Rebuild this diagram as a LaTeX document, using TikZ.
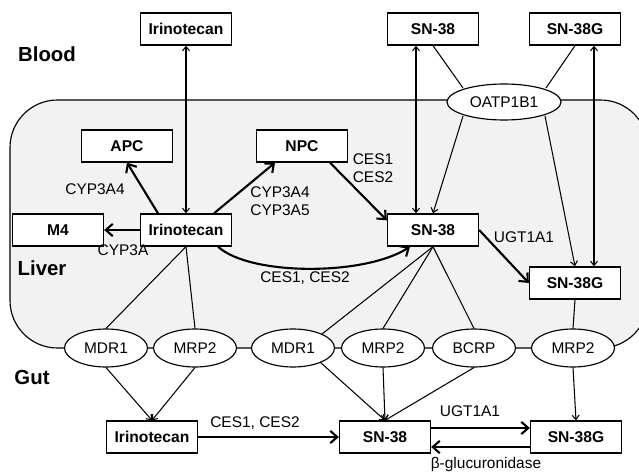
\documentclass[tikz,border=0pt]{standalone}
\usepackage{fontspec}
\setmainfont{Liberation Sans}
\usetikzlibrary{arrows.meta,shapes.geometric,calc}
\begin{document}
\begin{tikzpicture}[x=0.02cm,y=-0.02cm,
  font=\fontsize{8.8}{10.5}\selectfont,
  box/.style={draw=black, line width=0.75pt, fill=white, minimum width=1.82cm, minimum height=0.64cm, inner sep=0pt, font=\fontsize{8.9}{10.5}\selectfont\bfseries},
  ell/.style={ellipse, draw=black, line width=0.65pt, fill=white, minimum width=1.66cm, minimum height=0.76cm, inner sep=0pt},
  conn/.style={line width=0.6pt, draw=black},
  tip/.style={conn, -{Straight Barb[length=2.5pt,width=4pt]}},
  dtip/.style={conn, {Straight Barb[length=2.5pt,width=4pt]}-{Straight Barb[length=2.5pt,width=4pt]}},
  big/.style={line width=1.2pt, draw=black, -{Straight Barb[length=4pt,width=7pt]}},
  region/.style={font=\fontsize{11.6}{14}\selectfont\bfseries, inner sep=0pt},
  lab/.style={inner sep=0pt, align=left}
]
\useasboundingbox (0,0) rectangle (639,473);
% liver compartment
\draw[fill=black!5, line width=0.65pt, draw=black, rounded corners=0.95cm] (10,100) rectangle (648,348);

% region labels
\node[region] (tblood) at (47,54) {Blood};
\node[region] (tliver) at (42,268) {Liver};
\node[region] (tgut) at (32,377) {Gut};

% blood
\node[box] (bi) at (186,29) {Irinotecan};
\node[box] (bs) at (433,29) {SN-38};
\node[box] (bsg) at (575,29) {SN-38G};
\node[ell, minimum width=2.28cm, minimum height=0.72cm] (oatp) at (504,102) {OATP1B1};

% liver
\node[box] (apc) at (127,146) {APC};
\node[box] (npc) at (302,146) {NPC};
\node[box] (m4) at (58,230) {M4};
\node[box] (irl) at (186,230) {Irinotecan};
\node[box] (sl) at (433,230) {SN-38};
\node[box] (sg) at (575,283) {SN-38G};

% transporters
\node[ell] (mdr1l) at (106,348) {MDR1};
\node[ell] (mrp2l) at (195,348) {MRP2};
\node[ell] (mdr1r) at (293,348) {MDR1};
\node[ell] (mrp2m) at (383,348) {MRP2};
\node[ell] (bcrp) at (474,348) {BCRP};
\node[ell] (mrp2r) at (573,348) {MRP2};

% gut
\node[box] (gi) at (152,437) {Irinotecan};
\node[box] (gs) at (385,437) {SN-38};
\node[box] (gsg) at (576,437) {SN-38G};

% labels
\node[lab] (l1) at (95,189) {CYP3A4};
\node[lab] (l2) at (280,201) {CYP3A4\\CYP3A5};
\node[lab] (l3) at (373,168) {CES1\\CES2};
\node[lab] (l4) at (123,250) {CYP3A};
\node[lab] (l5) at (305,278) {CES1, CES2};
\node[lab] (l6) at (524,237) {UGT1A1};
\node[lab] (l7) at (255,423) {CES1, CES2};
\node[lab] (l8) at (470,411) {UGT1A1};
\node[lab] (l9) at (486,464) {β-glucuronidase};

% blood <-> liver
\draw[dtip] (bi.south) -- (irl.north);
\draw[dtip] ($(bs.south)+(-17,0)$) -- ($(sl.north)+(-17,0)$);
\draw[dtip] ($(bsg.south)+(19,0)$) -- ($(sg.north)+(19,0)$);
\draw[conn] (bs.south) -- ($(oatp)+(-41,-14)$);
\draw[conn] (bsg.south) -- ($(oatp)+(42,-14)$);
\draw[tip] ($(oatp)+(-41,14)$) -- (sl.north);
\draw[tip] ($(oatp)+(41,14)$) -- (sg.north);

% liver metabolism
\draw[big] ($(irl.north)+(-28,0)$) -- (apc.south);
\draw[big] ($(irl.north)+(28,0)$) -- ($(npc.south)+(-27,0)$);
\draw[big] (irl.west) -- (m4.east);
\draw[big] ($(npc.south)+(28,0)$) -- ($(sl.north west)+(0,7)$);
\draw[big] ($(irl.south)+(32,0)$) .. controls (250,276) and (365,276) .. ($(sl.south)+(-23,0)$);
\draw[big] (sl.east) -- (sg.west);

% liver -> transporters
\draw[conn] (irl.south) -- (mdr1l.north);
\draw[conn] (irl.south) -- (mrp2l.north);
\draw[conn] (sl.south) -- ($(mdr1r)+(29,-14)$);
\draw[conn] (sl.south) -- (mrp2m.north);
\draw[conn] (sl.south) -- (bcrp.north);
\draw[conn] (sg.south) -- (mrp2r.north);

% transporters -> gut
\draw[tip] (mdr1l.south) -- (gi.north);
\draw[tip] (mrp2l.south) -- (gi.north);
\draw[tip] ($(mdr1r)+(27,14)$) -- (gs.north);
\draw[tip] (mrp2m.south) -- (gs.north);
\draw[tip] (bcrp.south) -- (gs.north);
\draw[tip] (mrp2r.south) -- (gsg.north);

% gut metabolism
\draw[big] (gi.east) -- (gs.west);
\draw[big] ($(gs.east)+(0,-9)$) -- ($(gsg.west)+(0,-9)$);
\draw[big] ($(gsg.west)+(0,10)$) -- ($(gs.east)+(0,10)$);
\end{tikzpicture}
\end{document}
